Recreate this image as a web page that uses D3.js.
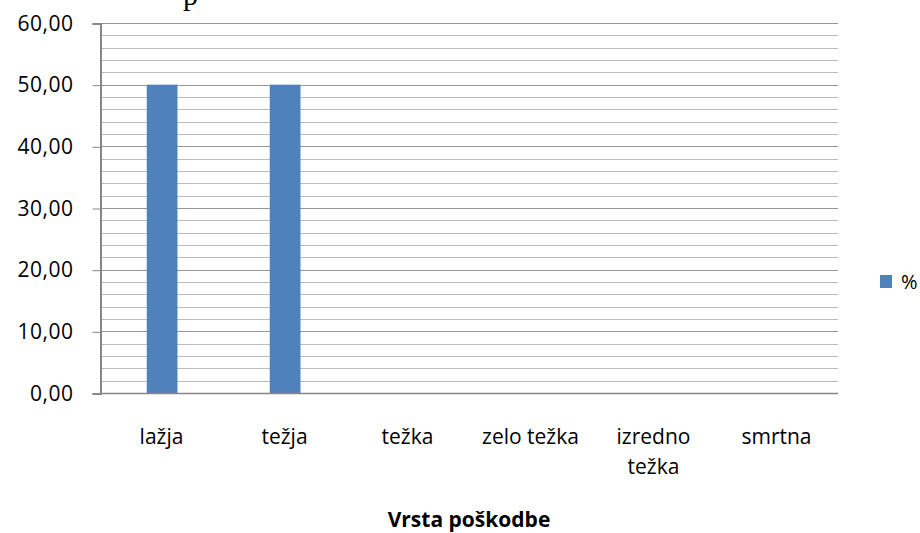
<!DOCTYPE html>
<html>
<head>
<meta charset="utf-8">
<script src="https://cdn.jsdelivr.net/npm/d3@7"></script>
<style>
  body { margin: 0; background: #fff; }
  text { font-family: "Open Sans", Lato, sans-serif; }
</style>
</head>
<body>
<div class="chart"></div>
<script>
// data
var categories = ['lažja', 'težja', 'težka', 'zelo težka', 'izredno težka', 'smrtna'];
var values = [50, 50, 0, 0, 0, 0];
var yTicks = [0, 10, 20, 30, 40, 50, 60];
var seriesName = '%';

var svg = d3.select('.chart').append('svg')
                .attr('width', 920)
                .attr('height', 533);

var plotLeft = 100, plotRight = 838, plotTop = 23, plotBottom = 393;

var x = d3.scaleBand().domain(categories).range([plotLeft, plotRight]);
var y = d3.scaleLinear().domain([0, 60]).range([plotBottom, plotTop]);

// clipped title text at top
svg.append('text')
   .attr('x', 183).attr('y', 5)
   .style('font-family', '"Liberation Serif", serif')
   .style('font-size', '30px')
   .text('p');

// minor gridlines every 2
svg.append('g').selectAll('line')
   .data(d3.range(2, 60, 2).filter(function(d) { return d % 10 !== 0; }))
   .enter().append('line')
   .attr('x1', plotLeft).attr('x2', plotRight)
   .attr('y1', function(d) { return Math.round(y(d)) + 0.5; })
   .attr('y2', function(d) { return Math.round(y(d)) + 0.5; })
   .attr('stroke', '#bcbcbc');

// major gridlines
svg.append('g').selectAll('line')
   .data(yTicks.slice(1))
   .enter().append('line')
   .attr('x1', plotLeft).attr('x2', plotRight)
   .attr('y1', function(d) { return Math.round(y(d)) + 0.5; })
   .attr('y2', function(d) { return Math.round(y(d)) + 0.5; })
   .attr('stroke', '#969696');

// bars
svg.append('g').selectAll('rect')
   .data(values)
   .enter().append('rect')
   .attr('x', function(d, i) { return x(categories[i]) + x.bandwidth() * 0.38; })
   .attr('width', x.bandwidth() * 0.25)
   .attr('y', function(d) { return y(d); })
   .attr('height', function(d) { return plotBottom - y(d); })
   .attr('fill', '#4f81bd');

// y axis
var yAxis = d3.axisLeft(y)
   .tickValues(yTicks)
   .tickSize(8)
   .tickPadding(19)
   .tickFormat(function(d) { return d3.format('.2f')(d).replace('.', ','); });
var gy = svg.append('g').attr('transform', 'translate(' + (plotLeft + 0.5) + ',0.5)').call(yAxis);
gy.select('.domain').attr('stroke', '#868686').attr('stroke-width', 2);
gy.selectAll('.tick line').attr('stroke', '#868686');
gy.selectAll('.tick text').attr('fill', '#000')
  .style('font-size', '21px')
  .style('letter-spacing', '0.5px')
  .style('font-family', '"Open Sans", sans-serif');

// baseline
svg.append('line')
   .attr('x1', plotLeft).attr('x2', plotRight)
   .attr('y1', plotBottom + 0.5).attr('y2', plotBottom + 0.5)
   .attr('stroke', '#868686').attr('stroke-width', 1.5);

// category labels (wrapped)
var wrapped = {'izredno težka': ['izredno', 'težka']};
svg.append('g').selectAll('text')
   .data(categories)
   .enter().append('text')
   .attr('text-anchor', 'middle')
   .attr('x', function(d) { return x(d) + x.bandwidth() / 2; })
   .attr('y', 444)
   .style('font-size', '21px')
   .each(function(d) {
     var lines = wrapped[d] || [d];
     var t = d3.select(this);
     lines.forEach(function(l, i) {
       t.append('tspan')
        .attr('x', x(d) + x.bandwidth() / 2)
        .attr('dy', i === 0 ? 0 : 30)
        .text(l);
     });
   });

// axis title
svg.append('text')
   .attr('x', 469).attr('y', 527)
   .attr('text-anchor', 'middle')
   .style('font-size', '21px')
   .style('font-weight', 'bold')
   .text('Vrsta poškodbe');

// legend
svg.append('rect')
   .attr('x', 880).attr('y', 275)
   .attr('width', 12).attr('height', 13)
   .attr('fill', '#4f81bd');
svg.append('text')
   .attr('x', 901).attr('y', 289)
   .style('font-size', '20px')
   .text(seriesName);
</script>
</body>
</html>
